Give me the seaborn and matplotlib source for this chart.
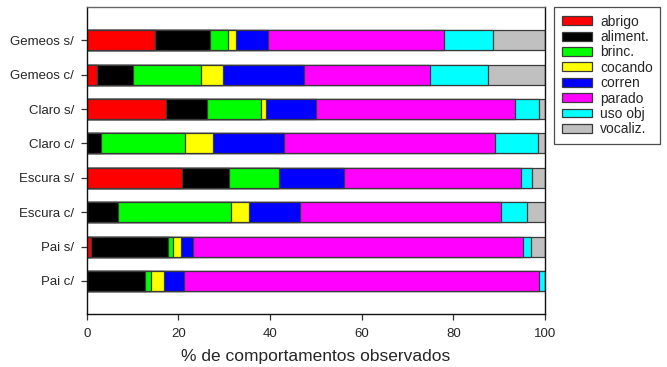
import matplotlib
matplotlib.use("Agg")
import matplotlib.pyplot as plt
from matplotlib.patches import Patch
import numpy as np
import pandas as pd
import seaborn as sns

# Groups (top to bottom) and behaviour categories
groups = ["Gemeos s/", "Gemeos c/", "Claro s/", "Claro c/",
          "Escura s/", "Escura c/", "Pai s/", "Pai c/"]
behaviours = ["abrigo", "aliment.", "brinc.", "cocando",
              "corren", "parado", "uso obj", "vocaliz."]
colors = ["#ff0000", "#000000", "#00ff00", "#ffff00",
          "#0000ff", "#ff00ff", "#00ffff", "#c0c0c0"]

# Percentage of observed behaviours per group
abrigo   = [14.9,  2.3, 17.2,  0.0, 20.9,  0.0,  0.9,  0.0]
aliment  = [12.1,  7.7,  9.0,  3.1, 10.1,  6.8, 16.9, 12.8]
brinc    = [ 3.8, 14.9, 11.8, 18.3, 11.0, 24.6,  1.1,  1.3]
cocando  = [ 1.8,  4.9,  1.1,  6.2,  0.0,  4.1,  1.7,  2.8]
corren   = [ 7.0, 17.6, 10.9, 15.4, 14.1, 11.0,  2.5,  4.4]
parado   = [38.4, 27.6, 43.5, 46.2, 38.7, 44.0, 72.2, 77.3]
uso_obj  = [10.7, 12.5,  5.3,  9.3,  2.3,  5.5,  1.7,  1.4]
vocaliz  = [11.3, 12.5,  1.2,  1.5,  2.9,  4.0,  3.0,  0.0]

series = [abrigo, aliment, brinc, cocando, corren, parado, uso_obj, vocaliz]

df = pd.DataFrame(dict(zip(behaviours, series)), index=groups)
cum = df.cumsum(axis=1)

sns.set_style("white")
plt.rcParams["font.family"] = ["Liberation Sans", "DejaVu Sans"]

fig = plt.figure(figsize=(6.67, 3.67), dpi=100)
ax = fig.add_axes([0.130, 0.1436, 0.687, 0.8384])

# Stacked bars: draw cumulative totals from the outermost segment inwards
for name, col in reversed(list(zip(behaviours, colors))):
    d = pd.DataFrame({"grupo": groups, "valor": cum[name].values})
    sns.barplot(data=d, x="valor", y="grupo", orient="h", color=col,
                saturation=1, width=0.58, edgecolor="#3a3a3a",
                linewidth=0.9, ax=ax, order=groups)

ax.set_xlim(0, 100)
ax.set_ylim(7.97, -0.98)
ax.set_xticks([0, 20, 40, 60, 80, 100])
ax.set_xticklabels(["0", "20", "40", "60", "80", "100"])
ax.set_ylabel("")
ax.set_xlabel("% de comportamentos observados", fontsize=12.5, labelpad=6)
ax.tick_params(axis="both", which="major", labelsize=9.5, length=4,
               width=0.9, color="#333333", direction="out",
               bottom=True, left=True)
ax.tick_params(axis="x", pad=6)
ax.tick_params(axis="y", pad=5)
for side in ["left", "bottom", "right"]:
    ax.spines[side].set_color("#111111")
    ax.spines[side].set_linewidth(1.0)
ax.spines["top"].set_color("#666666")
ax.spines["top"].set_linewidth(1.0)

handles = [Patch(facecolor=c, edgecolor="#3a3a3a", linewidth=0.9, label=b)
           for b, c in zip(behaviours, colors)]
leg = fig.legend(handles=handles, loc="upper left",
                 bbox_to_anchor=(0.831, 0.981), frameon=True,
                 fancybox=False, edgecolor="#222222", fontsize=10,
                 handlelength=2.15, handleheight=0.6, handletextpad=0.6,
                 labelspacing=0.1, borderpad=0.55, borderaxespad=0)
leg.get_frame().set_linewidth(0.9)

fig.savefig("out.png", dpi=100)
